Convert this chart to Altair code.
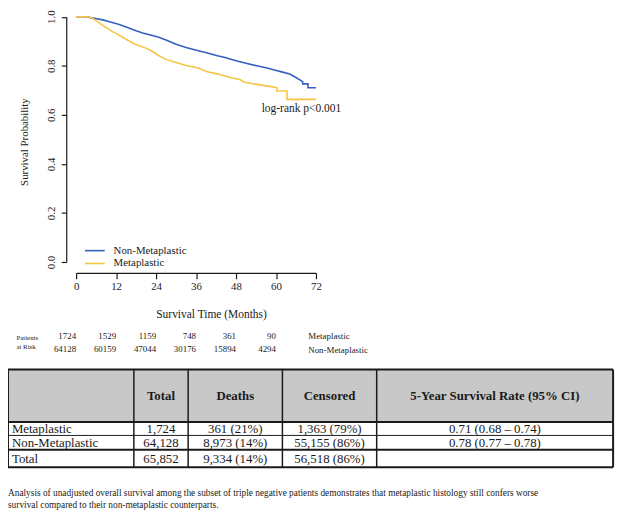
import altair as alt
import pandas as pd

# ---------------- data ----------------
groups = ["Non-Metaplastic", "Metaplastic"]

non_months = [0, 3, 5, 8, 10, 12.7, 15, 18, 20, 24.6, 27, 30, 33, 36.4, 39.4, 42.4, 44.4,
              48.3, 51, 54.2, 57, 60.1, 62, 64.1, 66, 68, 68, 69.6, 69.6, 72]
non_surv = [1.0, 1.0, 0.995, 0.987, 0.979, 0.969, 0.958, 0.943, 0.934, 0.917, 0.905, 0.888,
            0.874, 0.862, 0.852, 0.841, 0.835, 0.819, 0.81, 0.80, 0.792, 0.781, 0.774, 0.766,
            0.752, 0.735, 0.726, 0.726, 0.71, 0.71]

met_months = [0, 3.5, 5, 7.8, 10.8, 12, 14.7, 17.7, 20.6, 22.5, 24.6, 27, 29.5, 32.5, 34.5,
              36.4, 39.4, 42, 44.4, 47, 49.3, 50.5, 53, 56.2, 58.5, 60.3, 60.3, 63.3, 63.3, 72]
met_surv = [1.0, 1.0, 0.993, 0.967, 0.94, 0.932, 0.91, 0.888, 0.874, 0.862, 0.843, 0.826,
            0.815, 0.803, 0.797, 0.792, 0.776, 0.768, 0.759, 0.75, 0.743, 0.733, 0.727, 0.72,
            0.715, 0.711, 0.697, 0.697, 0.663, 0.663]

x_ticks = [0, 12, 24, 36, 48, 60, 72]
y_ticks = [0.0, 0.2, 0.4, 0.6, 0.8, 1.0]

annot_text = "log-rank p<0.001"
annot_month = 55.7
annot_surv = 0.622

risk_rows = ["Metaplastic", "Non-Metaplastic"]
risk_times = [0, 12, 24, 36, 48, 60]
risk_met = [1724, 1529, 1159, 748, 361, 90]
risk_non = [64128, 60159, 47044, 30176, 15894, 4294]

header = ["", "Total", "Deaths", "Censored", "5-Year Survival Rate (95% CI)"]
row_names = ["Metaplastic", "Non-Metaplastic", "Total"]
col_total = ["1,724", "64,128", "65,852"]
col_deaths = ["361 (21%)", "8,973 (14%)", "9,334 (14%)"]
col_censored = ["1,363 (79%)", "55,155 (86%)", "56,518 (86%)"]
col_rate = ["0.71 (0.68 \u2013 0.74)", "0.78 (0.77 \u2013 0.78)", ""]

caption = ["Analysis of unadjusted overall survival among the subset of triple negative patients "
           "demonstrates that metaplastic histology still confers worse",
           "survival compared to their non-metaplastic counterparts."]

# ---------------- layout / style ----------------
W, H = 620, 507
FONT = "Liberation Serif"
BLUE = "#3560c0"
YELLOW = "#f6c445"
INK = "#1a1a1a"

COL_W = [127.5, 55, 95.5, 95.5, 239.5]
ROW_H = [53, 13.7, 14.6, 17.7]
TABLE_TOP = 363
H_LINE_W = [2, 2, 1, 2, 2]
V_LINE_W = [2, 1.5, 1.5, 1.5, 1.5, 2]

# ---------------- KM plot ----------------
km_rows = []
for g, ms, ss in [(groups[0], non_months, non_surv), (groups[1], met_months, met_surv)]:
    for i, (m, s) in enumerate(zip(ms, ss)):
        km_rows.append({"group": g, "month": m, "surv": s, "i": i})
km_df = pd.DataFrame(km_rows)

x_km = alt.Scale(domain=[0, 72], range=[69, 312], nice=False, zero=False)
y_km = alt.Scale(domain=[0, 1], range=[254, 5.5], nice=False, zero=False)

x_axis = alt.Axis(orient="bottom", offset=265 - H, values=x_ticks, tickSize=6, tickColor=INK,
                  domainColor=INK, domainWidth=1.2, tickWidth=1.2, grid=False,
                  labelFont=FONT, labelFontSize=11, labelColor=INK, labelPadding=2,
                  labelFlush=False, labelOverlap=False,
                  title="Survival Time (Months)", titleFont=FONT, titleFontSize=11.6,
                  titleFontWeight="normal", titleColor=INK, titleX=205.7, titleY=42,
                  titleBaseline="middle", titleAlign="center")
y_axis = alt.Axis(orient="left", offset=-59, values=y_ticks, format=".1f", tickSize=5,
                  tickColor=INK, domainColor=INK, domainWidth=1.2, tickWidth=1.2, grid=False,
                  labelFont=FONT, labelFontSize=11, labelColor=INK, labelAngle=270,
                  labelAlign="center", labelBaseline="bottom", labelPadding=5,
                  labelFlush=False, labelOverlap=False,
                  title="Survival Probability", titleFont=FONT, titleFontSize=11,
                  titleFontWeight="normal", titleColor=INK, titleAngle=270,
                  titleX=-42, titleY=132, titleBaseline="middle", titleAlign="center")

lines = alt.Chart(km_df).mark_line(strokeWidth=1.6).encode(
    x=alt.X("month:Q", scale=x_km, axis=x_axis),
    y=alt.Y("surv:Q", scale=y_km, axis=y_axis),
    color=alt.Color("group:N", scale=alt.Scale(domain=groups, range=[BLUE, YELLOW]),
                    legend=alt.Legend(orient="none", legendX=82, legendY=236.5, title=None,
                                      symbolType="M-2,0H2", symbolSize=100,
                                      symbolStrokeWidth=1.6, labelFont=FONT,
                                      labelFontSize=11, labelColor=INK, labelOffset=13,
                                      rowPadding=2, padding=0)),
    order="i:Q",
)

annot = alt.Chart(pd.DataFrame({"month": [annot_month], "surv": [annot_surv],
                                "label": [annot_text]})).mark_text(
    align="left", baseline="middle", font=FONT, fontSize=11.6, color=INK
).encode(
    x=alt.X("month:Q", scale=x_km, axis=x_axis),
    y=alt.Y("surv:Q", scale=y_km, axis=y_axis),
    text="label:N",
)

km = alt.layer(lines, annot)

# ---------------- risk table ----------------
risk_df = pd.DataFrame(
    [{"time": t, "row": risk_rows[0], "n": str(v)} for t, v in zip(risk_times, risk_met)] +
    [{"time": t, "row": risk_rows[1], "n": str(v)} for t, v in zip(risk_times, risk_non)]
)
risk = alt.Chart(risk_df).mark_text(
    align="right", baseline="middle", font=FONT, fontSize=9, color=INK
).encode(
    x=alt.X("time:Q", scale=alt.Scale(domain=[0, 72], range=[69, 312], nice=False, zero=False),
            axis=None),
    y=alt.Y("row:N", scale=alt.Scale(type="point", domain=risk_rows, range=[329, 342.3],
                                     padding=0),
            axis=alt.Axis(orient="right", offset=303.7 - W, domain=False, ticks=False,
                          tickSize=0, labelPadding=0, labelAlign="left",
                          labelBaseline="middle", labelFont=FONT, labelFontSize=9,
                          labelColor=INK, grid=False,
                          title=["Patients", "at Risk"], titleFont=FONT, titleFontSize=7,
                          titleFontWeight="normal", titleColor=INK, titleAngle=0,
                          titleAlign="left", titleBaseline="top", titleX=16 - 311.7,
                          titleY=326.4, titleLineHeight=9)),
    text="n:N",
)

# ---------------- summary table ----------------
col_edges = [0]
for w in COL_W:
    col_edges.append(col_edges[-1] + w)
row_edges = [0]
for h in ROW_H:
    row_edges.append(row_edges[-1] + h)
TW, TH = col_edges[-1], row_edges[-1]

tx = alt.Scale(domain=[0, TW], range=[0, TW], nice=False, zero=False)
ty = alt.Scale(domain=[0, TH], range=[TABLE_TOP, TABLE_TOP + TH], nice=False, zero=False)

hdr_rect = alt.Chart(pd.DataFrame({"x": [0], "x2": [TW], "y": [0], "y2": [ROW_H[0]]})).mark_rect(
    color="#c8c8c8").encode(
    x=alt.X("x:Q", scale=tx, axis=None), x2="x2:Q",
    y=alt.Y("y:Q", scale=ty, axis=None), y2="y2:Q")

hl_df = pd.DataFrame({"y": row_edges, "x": [0] * len(row_edges), "x2": [TW] * len(row_edges),
                      "w": H_LINE_W})
hlines = alt.Chart(hl_df).mark_rule(color=INK).encode(
    x=alt.X("x:Q", scale=tx, axis=None), x2="x2:Q",
    y=alt.Y("y:Q", scale=ty, axis=None),
    size=alt.Size("w:Q", scale=None, legend=None))

vl_df = pd.DataFrame({"x": col_edges, "y": [0] * len(col_edges), "y2": [TH] * len(col_edges),
                      "w": V_LINE_W})
vlines = alt.Chart(vl_df).mark_rule(color=INK).encode(
    x=alt.X("x:Q", scale=tx, axis=None),
    y=alt.Y("y:Q", scale=ty, axis=None), y2="y2:Q",
    size=alt.Size("w:Q", scale=None, legend=None))

col_centers = [(col_edges[i] + col_edges[i + 1]) / 2 for i in range(len(COL_W))]
row_centers = [(row_edges[i] + row_edges[i + 1]) / 2 for i in range(len(ROW_H))]

hdr_df = pd.DataFrame({"x": col_centers[1:], "y": [row_centers[0]] * 4, "t": header[1:]})
hdr_text = alt.Chart(hdr_df).mark_text(
    align="center", baseline="middle", font=FONT, fontSize=13, fontWeight="bold", color=INK
).encode(x=alt.X("x:Q", scale=tx, axis=None), y=alt.Y("y:Q", scale=ty, axis=None), text="t:N")

name_df = pd.DataFrame({"x": [4] * 3, "y": row_centers[1:], "t": row_names})
name_text = alt.Chart(name_df).mark_text(
    align="left", baseline="middle", font=FONT, fontSize=13, color=INK
).encode(x=alt.X("x:Q", scale=tx, axis=None), y=alt.Y("y:Q", scale=ty, axis=None), text="t:N")

cells = []
for ci, col in enumerate([col_total, col_deaths, col_censored, col_rate], start=1):
    for ri, v in enumerate(col):
        cells.append({"x": col_centers[ci], "y": row_centers[ri + 1], "t": v})
cell_text = alt.Chart(pd.DataFrame(cells)).mark_text(
    align="center", baseline="middle", font=FONT, fontSize=13, color=INK
).encode(x=alt.X("x:Q", scale=tx, axis=None), y=alt.Y("y:Q", scale=ty, axis=None), text="t:N")

table = alt.layer(hdr_rect, hlines, vlines, hdr_text, name_text, cell_text)

# ---------------- caption ----------------
cap = alt.Chart(pd.DataFrame({"k": [0]})).mark_text(
    align="left", baseline="middle", font=FONT, fontSize=9.45, lineHeight=12, color=INK,
    text=caption
).encode(x=alt.value(0), y=alt.value(488))

chart = alt.layer(km, risk, table, cap).resolve_scale(
    x="independent", y="independent"
).properties(
    width=W, height=H, padding=0, autosize=alt.AutoSizeParams(type="none")
).configure_view(strokeWidth=0)

chart.save("out.html", embed_options={"renderer": "svg", "actions": False})
